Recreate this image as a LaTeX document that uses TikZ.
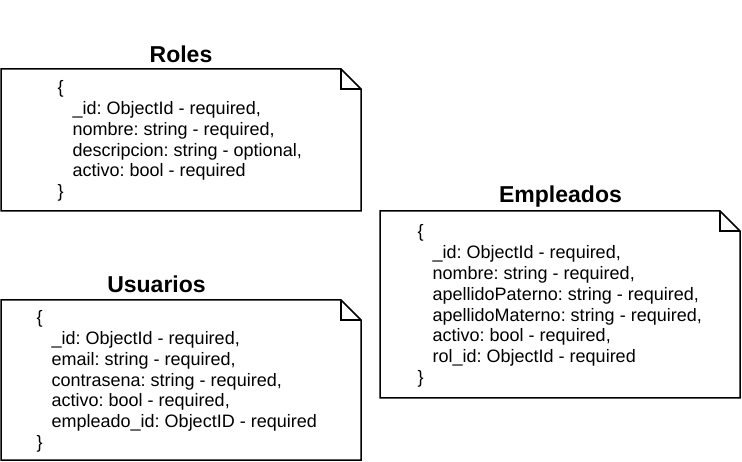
\documentclass[tikz,border=0pt]{standalone}
\usepackage{fontspec}
\setmainfont{Liberation Sans}
\usetikzlibrary{calc}
\frenchspacing
\def\notebox[#1](#2,#3)(#4,#5){\draw[#1] (#2,#3) -- ({#4-20},#3) -- (#4,{#3+20}) -- (#4,#5) -- (#2,#5) -- cycle;
	\draw[#1] ({#4-20},#3) -- ({#4-20},{#3+20}) -- (#4,{#3+20});}
\tikzset{
	title/.style={anchor=base, inner sep=0pt, font=\fontsize{23}{27}\selectfont\bfseries},
	fields/.style={anchor=west, align=left, inner sep=0pt, font=\fontsize{18}{20.8}\selectfont}
}
\def\ind{\hspace*{15pt}}

\begin{document}
\begin{tikzpicture}[x=1pt, y=-1pt]
		%%%%% START %%%%%
		\useasboundingbox (0,0) rectangle (742,462);
		
		% Roles
		\notebox[line width=1.5pt](1,69)(361,211);
		\node[title] (rolesTitle) at (181,63) {Roles};
		\node[fields] (rolesFields) at (57.5,141) {\{\\
			\ind\_id: ObjectId - required,\\
			\ind nombre: string - required,\\
			\ind descripcion: string - optional,\\
			\ind activo: bool - required\\
			\}};
		
		% Empleados
		\notebox[line width=1.5pt](380,211)(740,398);
		\node[title] (empleadosTitle) at (560.5,203) {Empleados};
		\node[fields] (empleadosFields) at (417.5,306) {\{\\
			\ind\_id: ObjectId - required,\\
			\ind nombre: string - required,\\
			\ind apellidoPaterno: string - required,\\
			\ind apellidoMaterno: string - required,\\
			\ind activo: bool - required,\\
			\ind rol\_id: ObjectId - required\\
			\}};
		
		% Usuarios
		\notebox[line width=1.5pt](1,300)(361,460);
		\node[title] (usuariosTitle) at (156.5,293) {Usuarios};
		\node[fields] (usuariosFields) at (36.5,381.5) {\{\\
			\ind\_id: ObjectId - required,\\
			\ind email: string - required,\\
			\ind contrasena: string - required,\\
			\ind activo: bool - required,\\
			\ind empleado\_id: ObjectID - required\\
			\}};
		
		%%%%% END %%%%%
	\end{tikzpicture}
\end{document}
